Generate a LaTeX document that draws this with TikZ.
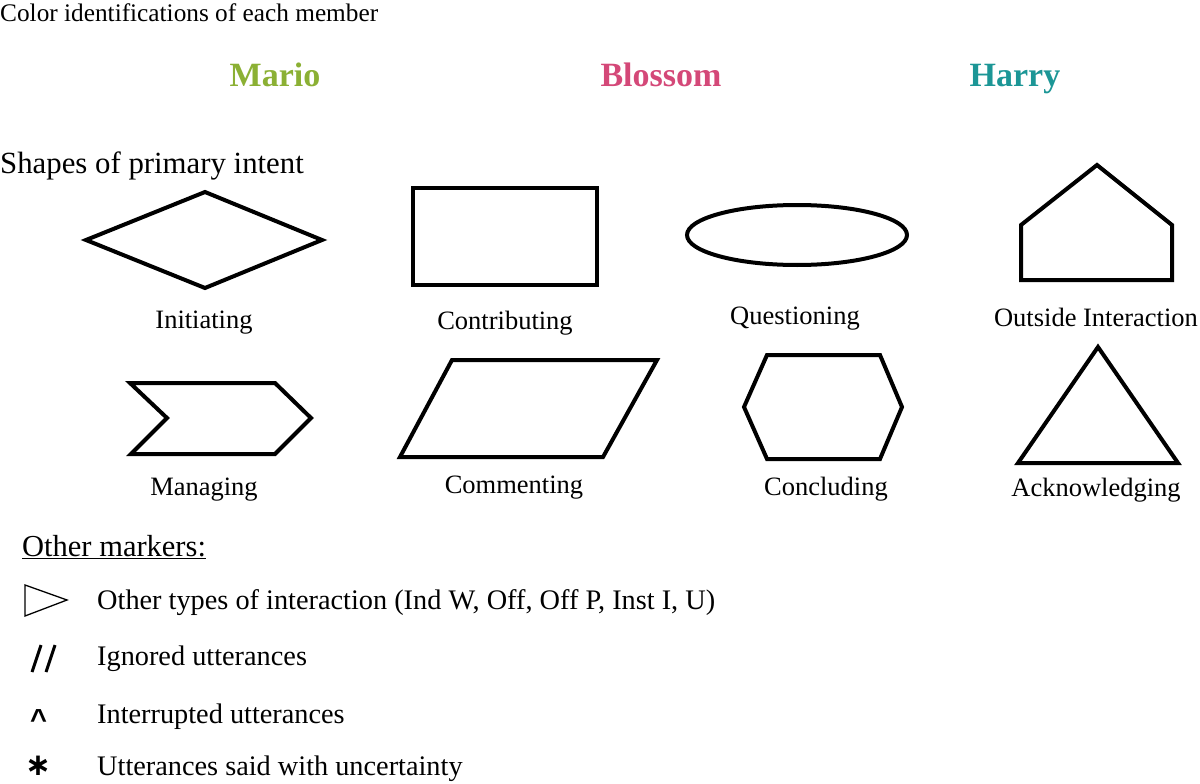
\documentclass[tikz,border=0pt]{standalone}
\usepackage{fontspec}
\setmainfont{Liberation Serif}
\newfontfamily\symsans{Liberation Sans}
\newfontfamily\dejasans{DejaVu Sans}
\definecolor{mariocol}{RGB}{139,176,52}
\definecolor{blossomcol}{RGB}{212,72,120}
\definecolor{harrycol}{RGB}{28,150,150}
\begin{document}
\begin{tikzpicture}[x=1pt,y=-1pt,
  shapeline/.style={draw=black,line width=4pt,line join=miter},
  shapelabel/.style={inner sep=0pt,anchor=base,font=\fontsize{26.5}{30}\selectfont},
  headtext/.style={inner sep=0pt,anchor=base west},
  membername/.style={inner sep=0pt,anchor=base,font=\fontsize{34}{38}\selectfont\bfseries},
  markertext/.style={inner sep=0pt,anchor=base west,font=\fontsize{28.3}{32}\selectfont},
  markersym/.style={inner sep=0pt,anchor=base,font=\symsans\bfseries}]
\useasboundingbox (0,0) rectangle (1200,784);
% headings
\node[headtext,font=\fontsize{25.3}{30}\selectfont] (h1) at (0,22) {Color identifications of each member};
\node[membername,text=mariocol] (mario) at (275,86) {Mario};
\node[membername,text=blossomcol] (blossom) at (661,86) {Blossom};
\node[membername,text=harrycol] (harry) at (1015,86) {Harry};
\node[headtext,font=\fontsize{30.8}{34}\selectfont] (h2) at (0,173) {Shapes of primary intent};
% row 1
\draw[shapeline] (86,240) -- (205,192) -- (322,240) -- (205,288) -- cycle;
\node[shapelabel] (l1) at (204,328) {Initiating};
\draw[shapeline] (413,188) rectangle (597,285);
\node[shapelabel] (l2) at (505,329) {Contributing};
\draw[shapeline] (797,235) ellipse [x radius=110, y radius=30];
\node[shapelabel] (l3) at (795,324) {Questioning};
\draw[shapeline] (1021,280) -- (1021,225) -- (1097,165) -- (1172,225) -- (1172,280) -- cycle;
\node[shapelabel] (l4) at (1096,326) {Outside Interaction};
% row 2
\draw[shapeline] (130,383) -- (275,383) -- (311,418) -- (275,454) -- (131,454) -- (167,418) -- cycle;
\node[shapelabel] (l5) at (204,495) {Managing};
\draw[shapeline] (400,457) -- (452,360) -- (657,360) -- (603,457) -- cycle;
\node[shapelabel] (l6) at (514,493) {Commenting};
\draw[shapeline] (744,407) -- (767,355) -- (880,355) -- (902,407) -- (880,459) -- (767,459) -- cycle;
\node[shapelabel] (l7) at (826,495) {Concluding};
\draw[shapeline] (1098,347) -- (1178,463) -- (1018,463) -- cycle;
\node[shapelabel] (l8) at (1096,496) {Acknowledging};
% other markers
\node[headtext,font=\fontsize{30.5}{34}\selectfont] (om) at (22,556) {\underline{Other markers:}};
\draw[line width=1.3pt,line join=miter] (25,585) -- (67,600) -- (25,616) -- cycle;
\node[markertext] (m1) at (97,609) {Other types of interaction (Ind W, Off, Off P, Inst I, U)};
\draw[line width=3pt] (32,672) -- (41,645);
\draw[line width=3pt] (46,672) -- (55,645);
\node[markertext] (m2) at (97,665) {Ignored utterances};
\node[markersym,font=\fontsize{29}{30}\selectfont\symsans\bfseries] (s3) at (38.5,714) {\smash{\raisebox{-15.3pt}{\textasciicircum}}};
\node[markertext] (m3) at (97,723) {Interrupted utterances};
\node[inner sep=0pt,anchor=base,font=\fontsize{31}{34}\selectfont\dejasans\bfseries] (s4) at (38,775) {∗};
\node[markertext] (m4) at (97,775) {Utterances said with uncertainty};
\end{tikzpicture}
\end{document}
